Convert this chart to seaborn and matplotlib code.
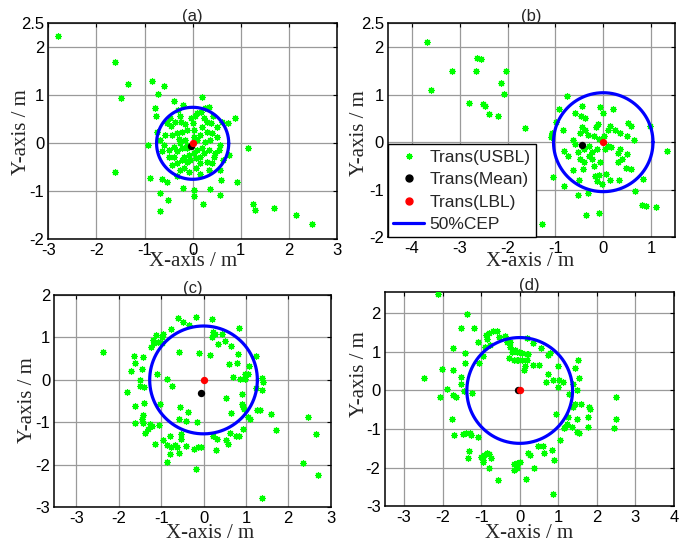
import numpy as np
import matplotlib
matplotlib.use("Agg")
import matplotlib.pyplot as plt
from matplotlib.lines import Line2D
import seaborn as sns

# ---------------------------------------------------------------- data
# (a)
a_x = [-2.80, -1.62, -1.34, -1.48, -0.84, -0.59, -0.93, -1.62, -0.68, -0.52,
       0.21, 1.26, 1.29, 1.70, 2.15, 2.49, -0.68, 0.59,
       -0.72, -0.38, -0.20, 0.19, -0.79, -0.76, -0.48, -0.30, -0.27, -0.36,
       -0.53, -0.46, -0.24, -0.15, -0.04, 0.04, 0.01, 0.09, 0.26, 0.35,
       0.18, 0.23, 0.30, 0.42, 0.38, 0.19, 0.02, -0.12, -0.22, -0.33,
       -0.43, -0.57, -0.75, -0.29, -0.15, -0.26, -0.39, -0.50, -0.64, -0.50,
       -0.19, -0.08, 0.02, 0.09, 0.19, 0.26, 0.37, 0.33, 0.16, 0.06,
       -0.05, -0.12, -0.22, -0.33, -0.43, -0.19, 0.06, 0.16, 0.30, 0.40,
       0.47, 0.54, 0.57, 0.51, 0.40, 0.30, 0.51, 0.61, 0.73, 0.89,
       1.16, 0.76, -0.26, -0.08, 0.16, 0.33, 0.57, 0.64, -0.60, -0.67,
       -0.88, -0.64, -0.53, -0.33, -0.20, 0.02, 0.02, 0.37, 0.57, 0.92,
       -0.39, -0.12, -0.12, 0.09, -0.22, -0.33, 0.16, 0.02, 0.23, 0.44]
a_y = [2.24, 1.70, 1.23, 0.94, 1.30, 1.20, -0.03, -0.60, -1.03, -1.19,
       -1.26, -1.27, -1.38, -1.34, -1.49, -1.69, -1.42, -0.76,
       1.03, 0.88, 0.80, 0.97, 0.73, 0.56, 0.52, 0.69, 0.57, 0.45,
       0.42, 0.36, 0.45, 0.40, 0.52, 0.56, 0.42, 0.63, 0.73, 0.75,
       0.65, 0.52, 0.45, 0.56, 0.42, 0.35, 0.28, 0.28, 0.24, 0.21,
       0.17, 0.17, 0.24, 0.10, 0.07, 0.00, -0.07, -0.14, -0.17, -0.28,
       -0.28, -0.24, -0.21, -0.14, -0.10, 0.03, 0.07, -0.14, -0.28, -0.31,
       -0.35, -0.38, -0.35, -0.42, -0.45, -0.52, -0.52, -0.42, -0.38, -0.42,
       -0.21, -0.14, -0.03, 0.14, 0.21, 0.24, 0.35, 0.45, 0.42, 0.52,
       -0.10, -0.24, -0.56, -0.59, -0.63, -0.56, -0.56, -0.35, -0.03, 0.07,
       -0.73, -0.75, -0.80, -0.69, -0.94, -0.97, -1.10, -0.95, -1.08, -0.80,
       -0.28, -0.10, -0.03, 0.07, -0.10, -0.17, 0.17, 0.14, -0.21, -0.28]

# (b)
b_x = [-0.76, -0.92, -0.45, -0.06, -0.01, 0.20, -0.60, -0.47, -0.39, -0.99,
       -1.08, -0.85, -0.45, -0.48, -0.38, -0.31, -0.19, -0.15, -0.10, -0.08,
       0.15, 0.09, 0.25, 0.34, 0.52, 0.59, 0.50, 0.64, -0.64, -0.59,
       -0.83, -0.73, -0.52, -0.40, -0.29, -0.24, -0.13, 0.09, 0.16, 0.36,
       0.30, 0.50, 0.39, 0.31, -0.48, -0.41, -0.24, -0.06, -0.19, -0.43,
       -0.64, 0.48, 0.57, -0.08, 0.06, 0.15, 0.32, -0.17, -0.13, -0.50,
       -1.06, -0.83, -0.03, 0.83, 0.67, -0.52, -0.31, 0.80, 0.90, 1.10,
       -0.36, -0.08, 0.01, 0.04, -0.30,
       -3.68, -3.61, -2.64, -2.55, -3.17, -2.66, -2.03, -2.14, -2.07, -2.80,
       -2.52, -2.47, -2.38, -2.19, -1.63, -1.29, 1.33, -1.07, -1.09, 0.97]
b_y = [0.97, 0.70, 0.77, 0.74, 0.61, 0.69, 0.61, 0.56, 0.51, 0.42,
       0.19, 0.26, 0.32, 0.19, 0.25, 0.16, 0.12, 0.32, 0.39, 0.07,
       0.35, 0.26, 0.25, 0.19, 0.40, 0.34, 0.14, 0.04, 0.04, -0.04,
       -0.18, -0.28, -0.21, -0.15, -0.07, -0.21, -0.14, -0.09, -0.11, -0.14,
       -0.23, -0.25, -0.35, -0.42, -0.36, -0.42, -0.35, -0.42, -0.51, -0.56,
       -0.58, -0.54, -0.57, -0.68, -0.67, -0.79, -0.79, -0.72, -0.81, -0.79,
       -0.74, -0.93, -0.88, -0.77, -1.02, -1.12, -1.07, -1.32, -1.35, -1.37,
       -1.54, -1.49, 0.14, -0.14, -0.28,
       2.10, 1.09, 1.77, 1.75, 1.49, 1.49, 1.49, 1.25, 1.02, 0.82,
       0.81, 0.77, 0.60, 0.56, 0.30, -1.73, -0.19, 0.18, 0.11, 0.34]

# (c)
c_x = [-2.37, -0.61, -0.17, -0.48, -0.34, -0.76, -0.95, -1.11, -0.99, -1.19,
       -1.17, -1.07, -0.97, -1.23, -0.57, -0.10, -1.64, -1.43, -1.62, -1.45,
       -1.72, -1.09, -0.87, -1.50, -1.50, -1.40, -1.80, -0.74, -1.62, -1.40,
       -1.03, -0.56, -0.36, -1.43, -1.45, -1.61, -1.43, -1.27, -1.05, -1.32,
       -1.37, -1.21, -0.57, -0.42, -0.15, -0.80, -0.95, -0.54, -0.52, -0.87,
       -0.77, -0.68, -0.62, -0.42, -0.57, -0.78, -1.15, -0.23, -0.14, -0.05,
       -0.87, -0.17,
       0.21, 0.83, 0.23, 0.28, 0.43, 0.19, 0.50, 0.35, 0.64, 0.15,
       0.82, 1.24, 0.61, 0.78, 1.08, 0.98, 1.06, 0.69, 0.86, 0.98,
       1.37, 1.41, 1.39, 0.90, 0.53, 1.24, 0.90, 0.94, 0.95, 0.64,
       1.06, 1.09, 1.27, 1.33, 1.58, 2.47, 1.71, 0.94, 0.23, 0.31,
       0.62, 0.76, 0.83, 0.54, 0.58, 0.29, 2.65, 2.35, 2.69, 1.39]
c_y = [0.66, 1.47, 1.49, 1.37, 1.29, 1.19, 1.09, 1.05, 1.00, 0.94,
       0.86, 0.90, 0.86, 0.78, 0.66, 0.64, 0.56, 0.54, 0.40, 0.25,
       0.21, 0.15, 0.03, -0.01, -0.14, -0.17, -0.28, -0.15, -0.62, -0.54,
       -0.56, -0.64, -0.75, -0.83, -0.91, -1.01, -1.01, -1.03, -1.05, -1.15,
       -1.25, -1.09, -0.91, -0.97, -0.99, -1.31, -1.41, -1.27, -1.38, -1.54,
       -1.58, -1.54, -1.58, -1.56, -1.72, -1.74, -1.50, -1.62, -1.58, -1.58,
       -1.93, -2.09,
       1.43, 1.23, 1.13, 1.07, 1.07, 1.01, 0.92, 0.84, 0.80, 0.58,
       0.61, 0.56, 0.37, 0.41, 0.33, 0.15, 0.13, 0.06, 0.03, 0.03,
       0.05, -0.06, -0.24, -0.32, -0.42, -0.20, -0.57, -0.64, -0.68, -0.79,
       -0.87, -0.93, -0.72, -0.70, -0.81, -0.87, -1.19, -1.16, -1.31, -1.38,
       -1.25, -1.31, -1.31, -1.42, -1.52, -1.64, -1.27, -1.95, -2.25, -2.77]

# (d)
d_x = [-1.37, -1.53, -1.18, -1.72, -1.42, -2.01, -1.74, -2.47, -1.89, -2.07,
       -1.74, -1.65, -1.53, -1.53, -1.43, -1.44, -1.23, -1.07, -0.96, -1.05,
       -0.87, -0.79, -0.68, -0.58, -0.84, -0.77, -0.90, -1.75, -1.70, -1.48,
       -1.39, -1.29, -1.26, -1.09, -1.31, -1.33, -1.01, -0.96, -0.92, -0.86,
       -0.79, -0.75, -0.94, -0.80, -0.57, -0.16, -0.16, -0.08, -0.34, -0.25,
       -0.21, -0.29, -0.16, -0.06, -0.12, -0.03, -2.13, 0.86, -0.39, -0.24,
       -0.54, 0.19,
       0.18, 0.35, 0.55, 0.74, 0.79, -0.08, 0.05, 0.22, 0.20, -0.05,
       0.05, 0.14, 0.10, 0.35, 0.50, 1.00, 1.52, 1.43, 1.54, 0.74,
       0.67, 0.87, 1.02, 1.13, 0.98, 1.39, 1.48, 1.29, 2.50, 1.43,
       1.58, 1.80, 1.82, 1.39, 0.95, 1.26, 1.48, 1.78, 1.22, 1.18,
       1.35, 1.78, 1.48, 1.54, 1.14, 1.05, 2.49, 2.44, 0.48, 0.61,
       0.85, 0.64, 0.21, 0.27, 0.90, 0.00, 0.38, 0.16, -0.08]
d_y = [1.98, 1.61, 1.63, 1.11, 0.96, 0.55, 0.53, 0.31, 0.03, -0.16,
       -0.12, -0.18, 0.35, 0.18, 0.72, -0.02, -0.06, 1.26, 0.89, 0.72,
       1.43, 1.48, 1.55, 1.54, 1.32, 1.19, 1.13, -0.73, -1.16, -1.13,
       -1.10, -1.11, -1.16, -1.20, -1.56, -1.74, -1.72, -1.79, -1.68, -1.61,
       -1.65, -1.74, -1.85, -2.02, -2.31, -1.91, -2.06, -1.89, 1.26, 1.13,
       1.00, 0.83, 0.79, 0.79, 1.04, 1.00, 2.50, -2.68, 1.42, 1.25,
       1.38, 0.95,
       1.35, 1.22, 1.09, 0.93, 0.98, 1.00, 0.96, 0.94, 0.80, 0.80,
       0.79, 0.63, 0.53, 0.66, 0.66, 0.64, 0.80, 0.59, 0.31, 0.42,
       0.22, 0.27, 0.27, 0.22, 0.10, 0.18, 0.01, -0.10, -0.16, -0.35,
       -0.34, -0.42, -0.47, -0.44, -0.60, -0.70, -0.73, -0.70, -0.86, -0.94,
       -0.94, -0.94, -1.07, -1.11, -0.98, -1.27, -0.75, -0.96, -1.43, -1.43,
       -1.55, -1.63, -1.63, -1.68, -1.79, -1.85, -2.02, -2.30, -2.02]

panel_titles = ["(a)", "(b)", "(c)", "(d)"]
usbl_x = [a_x, b_x, c_x, d_x]
usbl_y = [a_y, b_y, c_y, d_y]
mean_x = [-0.04, -0.45, -0.06, -0.04]
mean_y = [-0.05, -0.06, -0.31, 0.00]
lbl_x = [0.0, 0.0, 0.0, 0.0]
lbl_y = [0.0, 0.0, 0.0, 0.0]
cep_radius = [0.75, 1.04, 1.27, 1.37]

x_limits = [(-3, 3), (-4.5, 1.5), (-3.52, 3.0), (-3.5, 4.0)]
y_limits = [(-2, 2.5), (-2, 2.5), (-3, 2), (-3, 2.55)]
x_ticks = [[-3, -2, -1, 0, 1, 2, 3], [-4, -3, -2, -1, 0, 1],
           [-3, -2, -1, 0, 1, 2, 3], [-3, -2, -1, 0, 1, 2, 3, 4]]
y_ticks = [[-2, -1, 0, 1, 2, 2.5], [-2, -1, 0, 1, 2, 2.5],
           [-3, -2, -1, 0, 1, 2], [-3, -2, -1, 0, 1, 2]]
legend_labels = ["Trans(USBL)", "Trans(Mean)", "Trans(LBL)", "50%CEP"]

# ---------------------------------------------------------------- style
sns.set_style("white")
plt.rcParams["font.family"] = ["Liberation Sans", "DejaVu Sans"]
plt.rcParams["axes.unicode_minus"] = False

W, H = 694, 544
fig = plt.figure(figsize=(W / 100, H / 100), dpi=100)

# axes boxes in pixels: left, top, right, bottom
boxes = [(48.3, 23.3, 337.0, 239.3), (388.0, 23.3, 675.0, 237.3),
         (54.3, 295.0, 330.7, 507.3), (384.7, 292.0, 674.0, 506.3)]
# label centres in pixels
xlabel_pos = [(193, 262), (530, 262), (210, 533), (529, 533)]
ylabel_pos = [(21, 132), (360, 133), (27, 400), (359, 374)]

green = "#00ff00"
serif = ["Liberation Serif", "DejaVu Serif"]

for i in range(4):
    l, t, r, b = boxes[i]
    ax = fig.add_axes([l / W, 1 - b / H, (r - l) / W, (b - t) / H])

    sns.scatterplot(x=usbl_x[i], y=usbl_y[i], ax=ax, marker=(8, 2, 0),
                    color=green, s=18, linewidth=0.9, zorder=3)
    theta = np.linspace(0, 2 * np.pi, 400)
    ax.plot(cep_radius[i] * np.cos(theta), cep_radius[i] * np.sin(theta),
            color="#0000ff", lw=2.3, zorder=4)
    sns.scatterplot(x=[mean_x[i]], y=[mean_y[i]], ax=ax, color="black",
                    s=28, linewidth=0, zorder=5)
    sns.scatterplot(x=[lbl_x[i]], y=[lbl_y[i]], ax=ax, color="red",
                    s=28, linewidth=0, zorder=6)

    ax.set_xlim(*x_limits[i])
    ax.set_ylim(*y_limits[i])
    ax.set_xticks(x_ticks[i])
    ax.set_yticks(y_ticks[i])
    ax.set_xticklabels([f"{v:g}" for v in x_ticks[i]])
    ax.set_yticklabels([f"{v:g}" for v in y_ticks[i]])
    ax.grid(True, color="#9a9a9a", lw=0.9)
    ax.set_axisbelow(True)
    ax.tick_params(direction="in", length=3, width=0.8, pad=3,
                   labelsize=12, colors="black", top=True, right=True)
    for sp in ax.spines.values():
        sp.set_color("black")
        sp.set_linewidth(1.1)

    ax.set_title(panel_titles[i], fontsize=12, pad=1.5)

    ax.set_xlabel("X-axis / m", family=serif, fontsize=15)
    ax.set_ylabel("Y-axis / m", family=serif, fontsize=15)
    xl, yl = xlabel_pos[i]
    ax.xaxis.set_label_coords((xl - l) / (r - l), (b - yl) / (b - t))
    ax.xaxis.label.set_verticalalignment("center")
    xl2, yl2 = ylabel_pos[i]
    ax.yaxis.set_label_coords((xl2 - l) / (r - l), (b - yl2) / (b - t))
    ax.yaxis.label.set_verticalalignment("center")

    if i == 1:
        handles = [
            Line2D([], [], ls="none", marker=(8, 2, 0), color=green,
                   markersize=4.5, markeredgewidth=0.9),
            Line2D([], [], ls="none", marker="o", color="black",
                   markersize=5),
            Line2D([], [], ls="none", marker="o", color="red",
                   markersize=5),
            Line2D([], [], color="#0000ff", lw=2.3),
        ]
        leg = ax.legend(handles, legend_labels, loc="lower left",
                        bbox_to_anchor=(0, 0), borderaxespad=0,
                        fontsize=12.5, frameon=True, fancybox=False,
                        framealpha=1, edgecolor="black", handlelength=1.8,
                        handletextpad=0.3, labelspacing=0.42,
                        borderpad=0.3)
        leg.get_frame().set_linewidth(1.0)
        leg.set_zorder(10)

fig.savefig("out.png", dpi=100)
